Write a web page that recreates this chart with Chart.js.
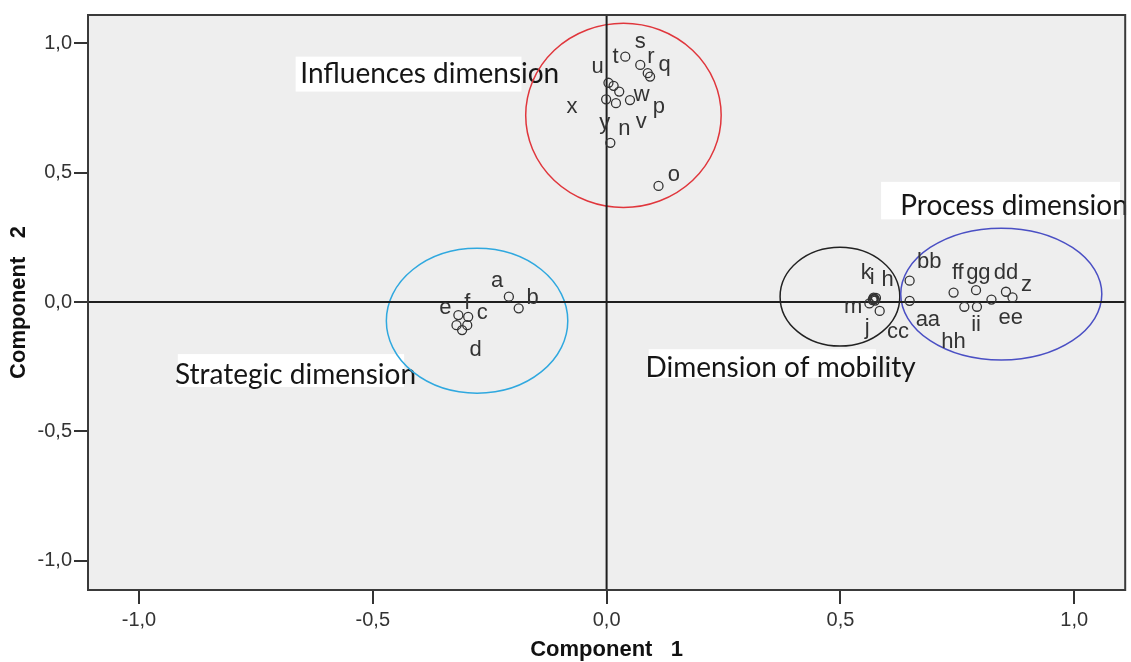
<!DOCTYPE html>
<html><head><meta charset="utf-8">
<script src="https://cdn.jsdelivr.net/npm/chart.js@4.4.0/dist/chart.umd.min.js"></script>
<style>html,body{margin:0;padding:0;background:#fff;overflow:hidden;}#wrap{width:1131px;height:662px;}canvas{display:block;}</style>
</head><body><div id="wrap"><canvas id="c" width="1131" height="662"></canvas></div>
<script>
// ---- data (component loadings) ----
const pointX = [0.040,0.072,0.088,0.093,0.004,0.015,0.027,-0.001,0.020,0.050,0.008,0.111,
  -0.209,-0.188,-0.317,-0.296,-0.321,-0.298,-0.309,
  0.573,0.569,0.576,0.571,0.574,0.570,0.562,0.584,0.648,0.648,0.742,0.790,0.765,0.792,0.823,0.854,0.868];
const pointY = [0.949,0.917,0.885,0.872,0.848,0.836,0.814,0.784,0.769,0.781,0.616,0.449,
  0.021,-0.024,-0.050,-0.057,-0.089,-0.089,-0.108,
  0.012,0.008,0.016,0.017,0.006,0.012,-0.005,-0.034,0.083,0.005,0.037,0.046,-0.018,-0.018,0.010,0.040,0.018];
const labelText = ['u','t','s','r','q','w','p','v','n','y','x','o',
  'a','b','e','f','c','d',
  'k','i','h','m','j','cc','aa','hh','ii','ee','bb','ff','gg','dd','z'];
const labelX = [-0.019,0.019,0.072,0.095,0.124,0.075,0.112,0.074,0.038,-0.004,-0.074,0.144,
  -0.234,-0.158,-0.345,-0.298,-0.266,-0.280,
  0.555,0.568,0.601,0.527,0.557,0.623,0.687,0.742,0.790,0.864,0.690,0.751,0.795,0.854,0.898];
const labelY = [0.910,0.949,1.007,0.949,0.917,0.801,0.756,0.697,0.668,0.691,0.756,0.491,
  0.082,0.017,-0.021,-0.003,-0.041,-0.186,
  0.111,0.092,0.085,-0.018,-0.098,-0.115,-0.070,-0.154,-0.089,-0.063,0.156,0.111,0.111,0.111,0.066];
const xTicks = [-1.0,-0.5,0.0,0.5,1.0];
const yTicks = [-1.0,-0.5,0.0,0.5,1.0];
const xTitle = 'Component   1';
const yTitle = 'Component   2';
const dimNames = ['Influences dimension','Process dimension','Strategic dimension','Dimension of mobility'];

// ---- annotation geometry (data coordinates) ----
const dimBoxes = [
  {tx:-0.655, ty:0.846, box:[-0.665,0.949,-0.182,0.814]},
  {tx:0.628, ty:0.337, box:[0.587,0.465,1.098,0.320]},
  {tx:-0.923, ty:-0.315, box:[-0.917,-0.201,-0.433,-0.328]},
  {tx:0.083, ty:-0.289, box:[0.090,-0.182,0.576,-0.294]}
];
const ellipses = [
  {cx:0.036, cy:0.722, rx:0.209, ry:0.356, color:'#e0363c'},
  {cx:-0.277, cy:-0.072, rx:0.194, ry:0.280, color:'#2fa8df'},
  {cx:0.499, cy:0.021, rx:0.128, ry:0.191, color:'#222222'},
  {cx:0.844, cy:0.031, rx:0.215, ry:0.255, color:'#4a4fc4'}
];

const fmt = v => (v < 0 ? '-' : '') + Math.abs(v).toFixed(1).replace('.', ',');
const noPad = () => ({left: 0, top: 0, right: 0, bottom: 0});

const plotPlugin = {
  id: 'plotDeco',
  beforeDraw(chart) {
    const {ctx, chartArea: a} = chart;
    ctx.save();
    ctx.fillStyle = '#ffffff';
    ctx.fillRect(0, 0, chart.width, chart.height);
    ctx.fillStyle = '#eeeeee';
    ctx.fillRect(a.left, a.top, a.right - a.left, a.bottom - a.top);
    ctx.restore();
  },
  beforeDatasetsDraw(chart) {
    const {ctx, chartArea: a, scales: {x, y}} = chart;
    ctx.save();
    dimBoxes.forEach((d, i) => {
      const x0 = x.getPixelForValue(d.box[0]), y0 = y.getPixelForValue(d.box[1]);
      const x1 = x.getPixelForValue(d.box[2]), y1 = y.getPixelForValue(d.box[3]);
      ctx.fillStyle = '#ffffff';
      ctx.fillRect(x0, y0, x1 - x0, y1 - y0);
      ctx.fillStyle = '#161616';
      ctx.font = '28px Lato, Carlito, "Open Sans", sans-serif';
      ctx.textAlign = 'left';
      ctx.textBaseline = 'alphabetic';
      ctx.fillText(dimNames[i], x.getPixelForValue(d.tx), y.getPixelForValue(d.ty));
    });
    ellipses.forEach(e => {
      const cx = x.getPixelForValue(e.cx), cy = y.getPixelForValue(e.cy);
      const rx = Math.abs(x.getPixelForValue(e.cx + e.rx) - cx);
      const ry = Math.abs(y.getPixelForValue(e.cy + e.ry) - cy);
      ctx.beginPath();
      ctx.ellipse(cx, cy, rx, ry, 0, 0, Math.PI * 2);
      ctx.strokeStyle = e.color;
      ctx.lineWidth = 1.5;
      ctx.stroke();
    });
    ctx.strokeStyle = '#1e1e1e';
    ctx.lineWidth = 2;
    const x0 = x.getPixelForValue(0), y0 = y.getPixelForValue(0);
    ctx.beginPath();
    ctx.moveTo(x0, a.top); ctx.lineTo(x0, a.bottom);
    ctx.moveTo(a.left, y0); ctx.lineTo(a.right, y0);
    ctx.stroke();
    ctx.restore();
  },
  afterDatasetsDraw(chart) {
    const {ctx, chartArea: a, scales: {x, y}} = chart;
    ctx.save();
    ctx.fillStyle = '#333333';
    ctx.font = '22px "Liberation Sans", Arial, sans-serif';
    ctx.textAlign = 'center';
    ctx.textBaseline = 'middle';
    labelText.forEach((t, i) => {
      ctx.fillText(t, x.getPixelForValue(labelX[i]), y.getPixelForValue(labelY[i]));
    });
    ctx.strokeStyle = '#3a3a3a';
    ctx.lineWidth = 2;
    ctx.strokeRect(a.left, a.top, a.right - a.left, a.bottom - a.top);
    ctx.restore();
  }
};

new Chart(document.getElementById('c'), {
  type: 'scatter',
  data: {
    datasets: [{
      data: pointX.map((v, i) => ({x: v, y: pointY[i]})),
      pointStyle: 'circle',
      pointRadius: 4.5,
      pointBorderWidth: 1.3,
      pointBorderColor: '#333333',
      pointBackgroundColor: 'rgba(0,0,0,0)'
    }]
  },
  options: {
    responsive: false,
    animation: false,
    devicePixelRatio: 1,
    layout: {padding: {top: 15, right: 3, left: 0, bottom: 0}},
    plugins: {legend: {display: false}, tooltip: {enabled: false}},
    scales: {
      x: {
        type: 'linear', min: -1.109, max: 1.109,
        afterBuildTicks: s => { s.ticks = xTicks.map(v => ({value: v})); },
        afterFit: s => { s.height = 72; s.paddingLeft = 0; s.paddingRight = 0; s.getPadding = noPad; },
        border: {display: false},
        grid: {display: true, drawOnChartArea: false, drawTicks: true, tickLength: 14, color: '#333333', lineWidth: 2},
        ticks: {callback: v => fmt(v), color: '#333333', padding: 4, font: {family: '"Liberation Sans", Arial, sans-serif', size: 20}, maxRotation: 0},
        title: {display: true, text: xTitle, color: '#111111', font: {family: '"Liberation Sans", Arial, sans-serif', size: 22, weight: 'bold', lineHeight: 1.1}, padding: {top: 0, bottom: 0}}
      },
      y: {
        type: 'linear', min: -1.113, max: 1.11,
        afterBuildTicks: s => { s.ticks = yTicks.map(v => ({value: v})); },
        afterFit: s => { s.width = 88; s.paddingTop = 0; s.paddingBottom = 0; s.getPadding = noPad; },
        border: {display: false},
        grid: {display: true, drawOnChartArea: false, drawTicks: true, tickLength: 14, color: '#333333', lineWidth: 2},
        ticks: {callback: v => fmt(v), color: '#333333', padding: 2, font: {family: '"Liberation Sans", Arial, sans-serif', size: 20}},
        title: {display: true, text: yTitle, color: '#111111', font: {family: '"Liberation Sans", Arial, sans-serif', size: 22, weight: 'bold', lineHeight: 1.1}, padding: {top: 7, bottom: 0}}
      }
    }
  },
  plugins: [plotPlugin]
});
</script></body></html>
